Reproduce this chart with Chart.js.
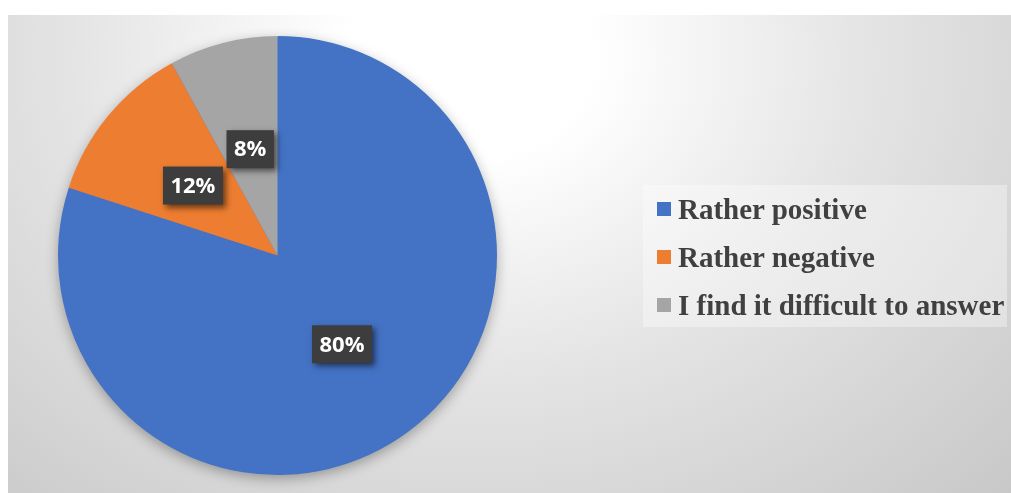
<!DOCTYPE html>
<html>
<head>
<meta charset="utf-8">
<script src="https://cdn.jsdelivr.net/npm/chart.js@4"></script>
<style>
  body { margin: 0; background: #fff; }
  #wrap {
    position: absolute; left: 8px; top: 15px; width: 1003px; height: 478px;
    background: radial-gradient(ellipse farthest-corner at 46% 9%, #ffffff 0%, #ffffff 16%, #e4e4e4 52%, #c8c8c8 100%);
  }
  #pie { position: absolute; left: 0; top: 0; }
  #legend {
    position: absolute; left: 635px; top: 170px; width: 364px; height: 142px;
    background: rgba(255, 255, 255, 0.35);
  }
  #legend ul { list-style: none; margin: 0; padding: 0; }
  #legend li {
    position: absolute; left: 14px; height: 30px; display: flex; align-items: center;
    font: bold 29px "Liberation Serif", "Times New Roman", serif; color: #404040; white-space: nowrap;
  }
  #legend li span { display: inline-block; width: 14px; height: 14px; margin-right: 7px; }
</style>
</head>
<body>
<div id="wrap">
  <canvas id="pie" width="1003" height="478"></canvas>
  <div id="legend"><ul></ul></div>
</div>
<script>
const labels = ["Rather positive", "Rather negative", "I find it difficult to answer"];
const shares = [80, 12, 8];
const colors = ["#4472C4", "#ED7D31", "#A5A5A5"];

// soft shadow under the whole pie
const pieShadow = {
  id: "pieShadow",
  beforeDatasetsDraw(chart) {
    const arc = chart.getDatasetMeta(0).data[0];
    if (!arc) return;
    const { x, y, outerRadius } = arc.getProps(["x", "y", "outerRadius"], true);
    const ctx = chart.ctx;
    ctx.save();
    ctx.shadowColor = "rgba(0,0,0,0.35)";
    ctx.shadowBlur = 14;
    ctx.shadowOffsetY = 4;
    ctx.fillStyle = "#4472C4";
    ctx.beginPath();
    ctx.arc(x, y, outerRadius - 1, 0, Math.PI * 2);
    ctx.fill();
    ctx.restore();
  }
};

// dark boxed percentage labels half way out on each slice
const sliceLabels = {
  id: "sliceLabels",
  afterDatasetsDraw(chart) {
    const ctx = chart.ctx;
    chart.getDatasetMeta(0).data.forEach((arc, i) => {
      const p = arc.getProps(["x", "y", "startAngle", "endAngle", "outerRadius"], true);
      const mid = (p.startAngle + p.endAngle) / 2;
      const cx = p.x + Math.cos(mid) * p.outerRadius * 0.5;
      const cy = p.y + Math.sin(mid) * p.outerRadius * 0.5;
      const text = shares[i] + "%";
      ctx.save();
      ctx.font = "bold 22px 'Open Sans', sans-serif";
      const w = ctx.measureText(text).width + 15;
      const h = 38;
      ctx.shadowColor = "rgba(0,0,0,0.55)";
      ctx.shadowBlur = 6;
      ctx.shadowOffsetX = 3;
      ctx.shadowOffsetY = 3;
      ctx.fillStyle = "#3d3d3d";
      ctx.fillRect(cx - w / 2, cy - h / 2, w, h);
      ctx.shadowColor = "transparent";
      ctx.fillStyle = "#ffffff";
      ctx.textAlign = "center";
      ctx.textBaseline = "middle";
      ctx.fillText(text, cx, cy + 1);
      ctx.restore();
    });
  }
};

new Chart(document.getElementById("pie"), {
  type: "pie",
  data: {
    labels: labels,
    datasets: [{
      data: shares,
      backgroundColor: colors,
      borderWidth: 0
    }]
  },
  options: {
    responsive: false,
    animation: false,
    layout: { padding: { left: 50, right: 514, top: 21, bottom: 18 } },
    plugins: {
      legend: { display: false },
      tooltip: { enabled: false }
    }
  },
  plugins: [pieShadow, sliceLabels]
});

// html legend from the same arrays
const ul = document.querySelector("#legend ul");
const rowTop = [9, 57, 105];
labels.forEach((name, i) => {
  const li = document.createElement("li");
  li.style.top = rowTop[i] + "px";
  const box = document.createElement("span");
  box.style.background = colors[i];
  li.appendChild(box);
  li.appendChild(document.createTextNode(name));
  ul.appendChild(li);
});
</script>
</body>
</html>
